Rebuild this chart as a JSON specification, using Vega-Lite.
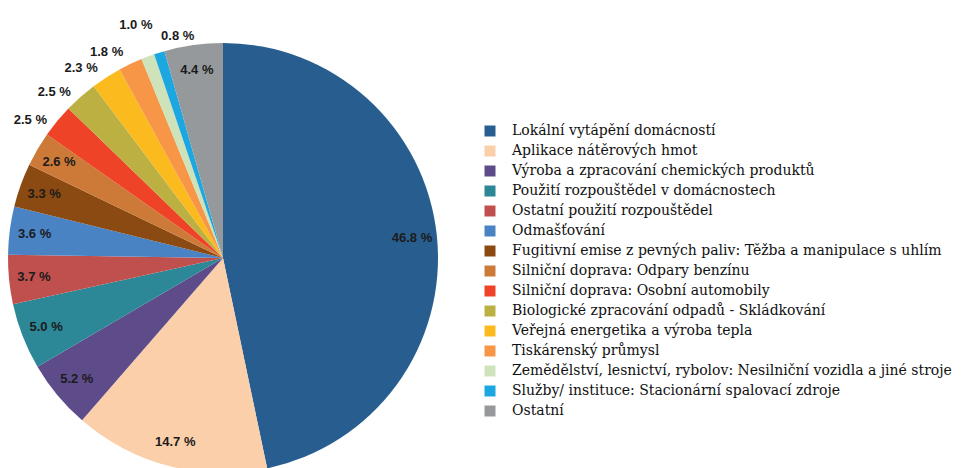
{
  "$schema": "https://vega.github.io/schema/vega-lite/v6.json",
  "autosize": {"type": "none"},
  "padding": {"left": 0, "top": 0, "right": 518, "bottom": 0},
  "width": 446,
  "height": 468,
  "background": "white",
  "view": {"stroke": null},
  "data": {
    "values": [
      {"idx": 1, "category": "Lokální vytápění domácností", "value": 46.8, "label": "46.8 %"},
      {"idx": 2, "category": "Aplikace nátěrových hmot", "value": 14.7, "label": "14.7 %"},
      {"idx": 3, "category": "Výroba a zpracování chemických produktů", "value": 5.2, "label": "5.2 %"},
      {"idx": 4, "category": "Použití rozpouštědel v domácnostech", "value": 5.0, "label": "5.0 %"},
      {"idx": 5, "category": "Ostatní použití rozpouštědel", "value": 3.7, "label": "3.7 %"},
      {"idx": 6, "category": "Odmašťování", "value": 3.6, "label": "3.6 %"},
      {"idx": 7, "category": "Fugitivní emise z pevných paliv: Těžba a manipulace s uhlím", "value": 3.3, "label": "3.3 %"},
      {"idx": 8, "category": "Silniční doprava: Odpary benzínu", "value": 2.6, "label": "2.6 %"},
      {"idx": 9, "category": "Silniční doprava: Osobní automobily", "value": 2.5, "label": "2.5 %"},
      {"idx": 10, "category": "Biologické zpracování odpadů - Skládkování", "value": 2.5, "label": "2.5 %"},
      {"idx": 11, "category": "Veřejná energetika a výroba tepla", "value": 2.3, "label": "2.3 %"},
      {"idx": 12, "category": "Tiskárenský průmysl", "value": 1.8, "label": "1.8 %"},
      {"idx": 13, "category": "Zemědělství, lesnictví, rybolov: Nesilniční vozidla a jiné stroje", "value": 1.0, "label": "1.0 %"},
      {"idx": 14, "category": "Služby/ instituce: Stacionární spalovací zdroje", "value": 0.8, "label": "0.8 %"},
      {"idx": 15, "category": "Ostatní", "value": 4.4, "label": "4.4 %"}
    ]
  },
  "encoding": {
    "theta": {"field": "value", "type": "quantitative", "stack": true},
    "order": {"field": "idx", "type": "quantitative"}
  },
  "layer": [
    {
      "mark": {"type": "arc", "outerRadius": 215, "yOffset": 24, "stroke": null},
      "encoding": {
        "color": {
          "field": "category",
          "type": "nominal",
          "sort": null,
          "scale": {
            "domain": [
              "Lokální vytápění domácností",
              "Aplikace nátěrových hmot",
              "Výroba a zpracování chemických produktů",
              "Použití rozpouštědel v domácnostech",
              "Ostatní použití rozpouštědel",
              "Odmašťování",
              "Fugitivní emise z pevných paliv: Těžba a manipulace s uhlím",
              "Silniční doprava: Odpary benzínu",
              "Silniční doprava: Osobní automobily",
              "Biologické zpracování odpadů - Skládkování",
              "Veřejná energetika a výroba tepla",
              "Tiskárenský průmysl",
              "Zemědělství, lesnictví, rybolov: Nesilniční vozidla a jiné stroje",
              "Služby/ instituce: Stacionární spalovací zdroje",
              "Ostatní"
            ],
            "range": ["#285e8f", "#fbcfa9", "#5e4c8a", "#2c8797", "#c0504d", "#4a83c4", "#8b4a12", "#cd7a39", "#ee4327", "#bdb042", "#fbba1e", "#f79646", "#cfe3ba", "#1da7e1", "#95999b"]
          },
          "legend": {
            "title": null,
            "orient": "none",
            "legendX": 483,
            "legendY": 124,
            "symbolType": "square",
            "symbolSize": 121,
            "symbolStrokeWidth": 0,
            "labelFont": "DejaVu Serif",
            "labelFontSize": 14,
            "labelColor": "#111111",
            "labelLimit": 600,
            "labelOffset": 15,
            "rowPadding": 6,
            "padding": 0
          }
        }
      }
    },
    {
      "mark": {"type": "text", "radius": 190, "yOffset": 24, "font": "Liberation Sans", "fontSize": 13, "fontWeight": "bold", "color": "#1b1b1b"},
      "encoding": {
        "text": {"condition": {"test": "datum.value >= 2.6", "field": "label"}, "value": ""}
      }
    },
    {
      "mark": {"type": "text", "radius": 237, "thetaOffset": -0.068, "yOffset": 24, "font": "Liberation Sans", "fontSize": 13, "fontWeight": "bold", "color": "#1b1b1b"},
      "encoding": {
        "text": {"condition": {"test": "datum.value < 2.6 && datum.value >= 1.5", "field": "label"}, "value": ""}
      }
    },
    {
      "mark": {"type": "text", "radius": 249, "yOffset": 24, "font": "Liberation Sans", "fontSize": 13, "fontWeight": "bold", "color": "#1b1b1b"},
      "encoding": {
        "text": {"condition": {"test": "datum.idx == 13", "field": "label"}, "value": ""}
      }
    },
    {
      "mark": {"type": "text", "radius": 227, "thetaOffset": 0.1, "yOffset": 24, "font": "Liberation Sans", "fontSize": 13, "fontWeight": "bold", "color": "#1b1b1b"},
      "encoding": {
        "text": {"condition": {"test": "datum.idx == 14", "field": "label"}, "value": ""}
      }
    }
  ]
}
